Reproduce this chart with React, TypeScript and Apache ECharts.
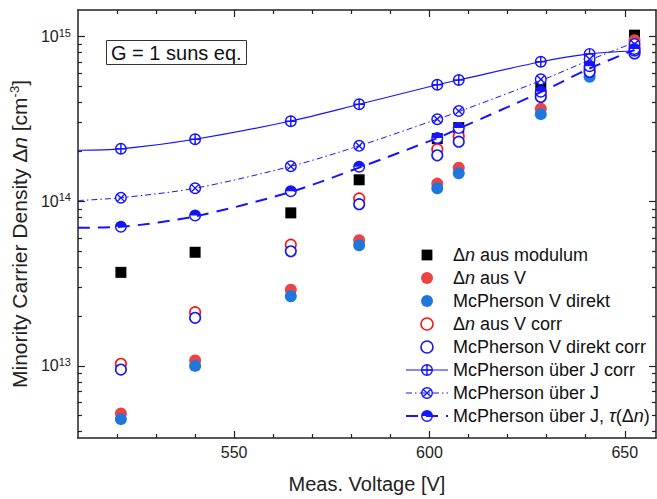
import React, { useEffect, useRef } from 'react';
import * as echarts from 'echarts';

const FONT = '"Liberation Sans", Arial, Helvetica, sans-serif';

// ---- data ----
const voltages = [521, 540, 564.5, 582, 602, 607.5, 628.5, 641, 652.5];
const dnModulum = [3.7e13, 4.9e13, 8.5e13, 1.35e14, 2.4e14, 2.8e14, 4.9e14, 7.0e14, 1.02e15];
const dnAusV = [5.15e12, 1.08e13, 2.9e13, 5.8e13, 1.28e14, 1.6e14, 3.65e14, 6.2e14, 9.5e14];
const mcpVDirekt = [4.75e12, 1.0e13, 2.65e13, 5.4e13, 1.2e14, 1.48e14, 3.38e14, 5.7e14, 8.1e14];
const dnAusVCorr = [1.03e13, 2.12e13, 5.45e13, 1.04e14, 2.07e14, 2.48e14, 4.5e14, 6.4e14, 8.6e14];
const mcpVDirektCorr = [9.5e12, 1.96e13, 4.97e13, 9.6e13, 1.9e14, 2.3e14, 4.3e14, 6.1e14, 7.9e14];
const mcpJCorr = [2.08e14, 2.38e14, 3.06e14, 3.88e14, 5.1e14, 5.45e14, 7.03e14, 7.85e14, 8.2e14];
const mcpJ = [1.05e14, 1.2e14, 1.63e14, 2.17e14, 3.15e14, 3.53e14, 5.5e14, 7.3e14, 9.0e14];
const mcpJTau = [7.0e13, 8.2e13, 1.15e14, 1.62e14, 2.42e14, 2.78e14, 4.62e14, 6.6e14, 8.4e14];

// fitted curves
const curveX = [510, 521, 540, 564.5, 582, 602, 607.5, 628.5, 641, 652.5];
const curveJCorr = [2.04e14, 2.08e14, 2.38e14, 3.07e14, 3.88e14, 5.1e14, 5.45e14, 7.03e14, 7.85e14, 8.2e14];
const curveJ = [1.01e14, 1.05e14, 1.2e14, 1.63e14, 2.17e14, 3.15e14, 3.5e14, 5.4e14, 7.2e14, 9.2e14];
const curveTau = [6.9e13, 7.0e13, 8.1e13, 1.14e14, 1.6e14, 2.42e14, 2.76e14, 4.6e14, 6.4e14, 8.3e14];

// axes
const X_MIN = 510;
const X_MAX = 658;
const Y_MIN = 3.65e12;
const Y_MAX = 1.45e15;
const xMajorTicks = [550, 600, 650];
const xMinorTicks = [520, 530, 540, 560, 570, 580, 590, 610, 620, 630, 640];
const yMajorTicks = [1e13, 1e14, 1e15];
const yMinorTicks = [
  4e12, 5e12, 6e12, 7e12, 8e12, 9e12,
  2e13, 3e13, 4e13, 5e13, 6e13, 7e13, 8e13, 9e13,
  2e14, 3e14, 4e14, 5e14, 6e14, 7e14, 8e14, 9e14,
];

const names = [
  'Δn aus modulum',
  'Δn aus V',
  'McPherson V direkt',
  'Δn aus V corr',
  'McPherson V direkt corr',
  'McPherson über J corr',
  'McPherson über J',
  'McPherson über J, τ(Δn)',
];
const richNames: Record<string, string> = {
  'Δn aus modulum': 'Δ{i|n} aus modulum',
  'Δn aus V': 'Δ{i|n} aus V',
  'Δn aus V corr': 'Δ{i|n} aus V corr',
  'McPherson über J, τ(Δn)': 'McPherson über J, {i|τ}(Δ{i|n})',
};

// ---- styles ----
const BLUE = '#1414ff';
const OUTER = 'M -10 0 A 10 10 0 1 1 10 0 A 10 10 0 1 1 -10 0 Z';
const INNER_CCW = 'M -7.6 0 A 7.6 7.6 0 1 0 7.6 0 A 7.6 7.6 0 1 0 -7.6 0 Z';
const SYM_PLUS =
  'path://' + OUTER + ' ' + INNER_CCW +
  ' M -7.8 -1.2 L 7.8 -1.2 L 7.8 1.2 L -7.8 1.2 Z M -1.2 -7.8 L 1.2 -7.8 L 1.2 7.8 L -1.2 7.8 Z';
const SYM_CROSS =
  'path://' + OUTER + ' ' + INNER_CCW +
  ' M -5.2 -6.8 L 6.8 5.2 L 5.2 6.8 L -6.8 -5.2 Z M 6.8 -5.2 L -5.2 6.8 L -6.8 5.2 L 5.2 -6.8 Z';
const SYM_HALF = 'path://' + OUTER + ' M 7.6 0 L -7.6 0 A 7.6 7.6 0 0 0 7.6 0 Z';
// legend icons with an empty margin, so they come out smaller than itemHeight
const ICON_CIRCLE = 'path://M -12.5 -12.5 M 12.5 12.5 ' + OUTER;
const ICON_SQUARE = 'path://M -12.5 -12.5 M 12.5 12.5 M -9 -9 L 9 -9 L 9 9 L -9 9 Z';

const zip = (xs: number[], ys: number[]) => xs.map((x, i) => [x, ys[i]]);

export default function App() {
  const ref = useRef<HTMLDivElement>(null);
  useEffect(() => {
    if (!ref.current) return;
    document.body.style.margin = '0';
    const chart = echarts.init(ref.current, undefined, { renderer: 'svg' });

    const axisLineStyle = { color: '#222', width: 1.5 };
    const tickStyle = { color: '#222', width: 1.2 };
    const xBase = { type: 'value', min: X_MIN, max: X_MAX, splitLine: { show: false } };
    const yBase = { type: 'log', logBase: 10, min: Y_MIN, max: Y_MAX, splitLine: { show: false } };

    const xAxes = [
      {
        ...xBase,
        position: 'bottom',
        axisLine: { show: true, onZero: false, lineStyle: axisLineStyle },
        axisTick: { show: true, inside: true, length: 7, customValues: xMajorTicks, lineStyle: tickStyle },
        axisLabel: { show: true, customValues: xMajorTicks, fontFamily: FONT, fontSize: 16, color: '#222', margin: 6 },
        name: 'Meas. Voltage [V]',
        nameLocation: 'middle',
        nameGap: 36,
        nameTextStyle: { fontFamily: FONT, fontSize: 20, color: '#222' },
      },
      {
        ...xBase,
        position: 'bottom',
        axisLine: { show: false, onZero: false },
        axisTick: { show: true, inside: true, length: 4, customValues: xMinorTicks, lineStyle: tickStyle },
        axisLabel: { show: false },
      },
      {
        ...xBase,
        position: 'top',
        axisLine: { show: true, onZero: false, lineStyle: axisLineStyle },
        axisTick: { show: true, inside: true, length: 7, customValues: xMajorTicks, lineStyle: tickStyle },
        axisLabel: { show: false },
      },
      {
        ...xBase,
        position: 'top',
        axisLine: { show: false, onZero: false },
        axisTick: { show: true, inside: true, length: 4, customValues: xMinorTicks, lineStyle: tickStyle },
        axisLabel: { show: false },
      },
    ];

    const yAxes = [
      {
        ...yBase,
        position: 'left',
        axisLine: { show: true, onZero: false, lineStyle: axisLineStyle },
        axisTick: { show: true, inside: true, length: 7, customValues: yMajorTicks, lineStyle: tickStyle },
        axisLabel: {
          show: true,
          customValues: yMajorTicks,
          margin: 7,
          fontFamily: FONT,
          fontSize: 16,
          color: '#222',
          formatter: (v: number) => '10{sup|' + Math.round(Math.log10(v)) + '}',
          rich: {
            sup: { fontFamily: FONT, fontSize: 11, color: '#222', padding: [0, 0, 8, 0] },
          },
        },
        name: 'Minority Carrier Density Δ{i|n} [cm{sup|-3}]',
        nameLocation: 'middle',
        nameGap: 42,
        nameTextStyle: {
          fontFamily: FONT,
          fontSize: 21,
          color: '#222',
          padding: [0, 20, 0, 0],
          rich: {
            i: { fontFamily: FONT, fontSize: 21, fontStyle: 'italic', color: '#222' },
            sup: { fontFamily: FONT, fontSize: 13, color: '#222', padding: [0, 0, 10, 0] },
          },
        },
      },
      {
        ...yBase,
        position: 'left',
        axisLine: { show: false, onZero: false },
        axisTick: { show: true, inside: true, length: 4, customValues: yMinorTicks, lineStyle: tickStyle },
        axisLabel: { show: false },
      },
      {
        ...yBase,
        position: 'right',
        axisLine: { show: true, onZero: false, lineStyle: axisLineStyle },
        axisTick: { show: true, inside: true, length: 7, customValues: yMajorTicks, lineStyle: tickStyle },
        axisLabel: { show: false },
      },
      {
        ...yBase,
        position: 'right',
        axisLine: { show: false, onZero: false },
        axisTick: { show: true, inside: true, length: 4, customValues: yMinorTicks, lineStyle: tickStyle },
        axisLabel: { show: false },
      },
    ];

    const scatter = (name: string, ys: number[], symbol: string, size: number, itemStyle: any) => ({
      type: 'scatter',
      name,
      data: zip(voltages, ys),
      symbol,
      symbolSize: size,
      itemStyle: { opacity: 1, ...itemStyle },
      emphasis: { disabled: true },
    });

    const curve = (name: string, ys: number[], symbol: string, lineStyle: any) => ({
      type: 'line',
      name,
      data: zip(curveX, ys),
      smooth: 0.3,
      showSymbol: false,
      symbol,
      symbolSize: 12,
      itemStyle: { color: BLUE },
      lineStyle: { color: BLUE, ...lineStyle },
      emphasis: { disabled: true },
    });

    const series = [
      curve(names[5], curveJCorr, SYM_PLUS, { width: 1.2, type: 'solid' }),
      curve(names[6], curveJ, SYM_CROSS, { width: 1, type: [6, 3, 1.5, 3] }),
      curve(names[7], curveTau, SYM_HALF, { width: 2, type: [12, 8] }),
      scatter(names[0], dnModulum, 'rect', 11, { color: '#000' }),
      scatter(names[1], dnAusV, 'circle', 12, { color: '#ea4444' }),
      scatter(names[2], mcpVDirekt, 'circle', 12, { color: '#1f77dc' }),
      scatter(names[3], dnAusVCorr, 'circle', 10.5, { color: '#fff', borderColor: '#ff1010', borderWidth: 1.6 }),
      scatter(names[4], mcpVDirektCorr, 'circle', 10.5, { color: '#fff', borderColor: BLUE, borderWidth: 1.6 }),
      scatter('bg1', mcpJCorr, 'circle', 11, { color: '#fff' }),
      scatter(names[5], mcpJCorr, SYM_PLUS, 12, { color: BLUE }),
      scatter('bg2', mcpJ, 'circle', 11, { color: '#fff' }),
      scatter(names[6], mcpJ, SYM_CROSS, 12, { color: BLUE }),
      scatter('bg3', mcpJTau, 'circle', 11, { color: '#fff' }),
      scatter(names[7], mcpJTau, SYM_HALF, 12, { color: BLUE }),
    ];

    const legendData = names.map((n, i) => {
      const item: any = { name: n };
      if (i === 0) item.icon = ICON_SQUARE;
      if (i >= 1 && i <= 4) item.icon = ICON_CIRCLE;
      if (i === 3 || i === 4) item.itemStyle = { borderWidth: 1.6 };
      if (i === 5) item.lineStyle = { width: 1.2 };
      if (i === 6) item.lineStyle = { width: 1 };
      if (i === 7) item.lineStyle = { width: 2 };
      return item;
    });

    chart.setOption({
      animation: false,
      backgroundColor: '#fff',
      title: {
        text: 'G = 1 suns eq.',
        left: 106,
        top: 40,
        padding: [2, 5, 1, 5],
        borderColor: '#333',
        borderWidth: 1,
        textStyle: { fontFamily: FONT, fontSize: 20, lineHeight: 22, fontWeight: 'normal', color: '#111' },
      },
      legend: {
        orient: 'vertical',
        left: 405,
        top: 246,
        padding: 0,
        itemWidth: 42,
        itemHeight: 15,
        itemGap: 5,
        selectedMode: false,
        data: legendData,
        formatter: (n: string) => richNames[n] || n,
        textStyle: {
          fontFamily: FONT,
          fontSize: 18,
          lineHeight: 18,
          color: '#111',
          rich: {
            i: { fontFamily: FONT, fontSize: 18, lineHeight: 18, fontStyle: 'italic', color: '#111' },
          },
        },
      },
      grid: { left: 75, right: 1, top: 10, bottom: 60, containLabel: false },
      xAxis: xAxes,
      yAxis: yAxes,
      series,
    });

    return () => chart.dispose();
  }, []);

  return <div ref={ref} style={{ width: 657, height: 499 }} />;
}
